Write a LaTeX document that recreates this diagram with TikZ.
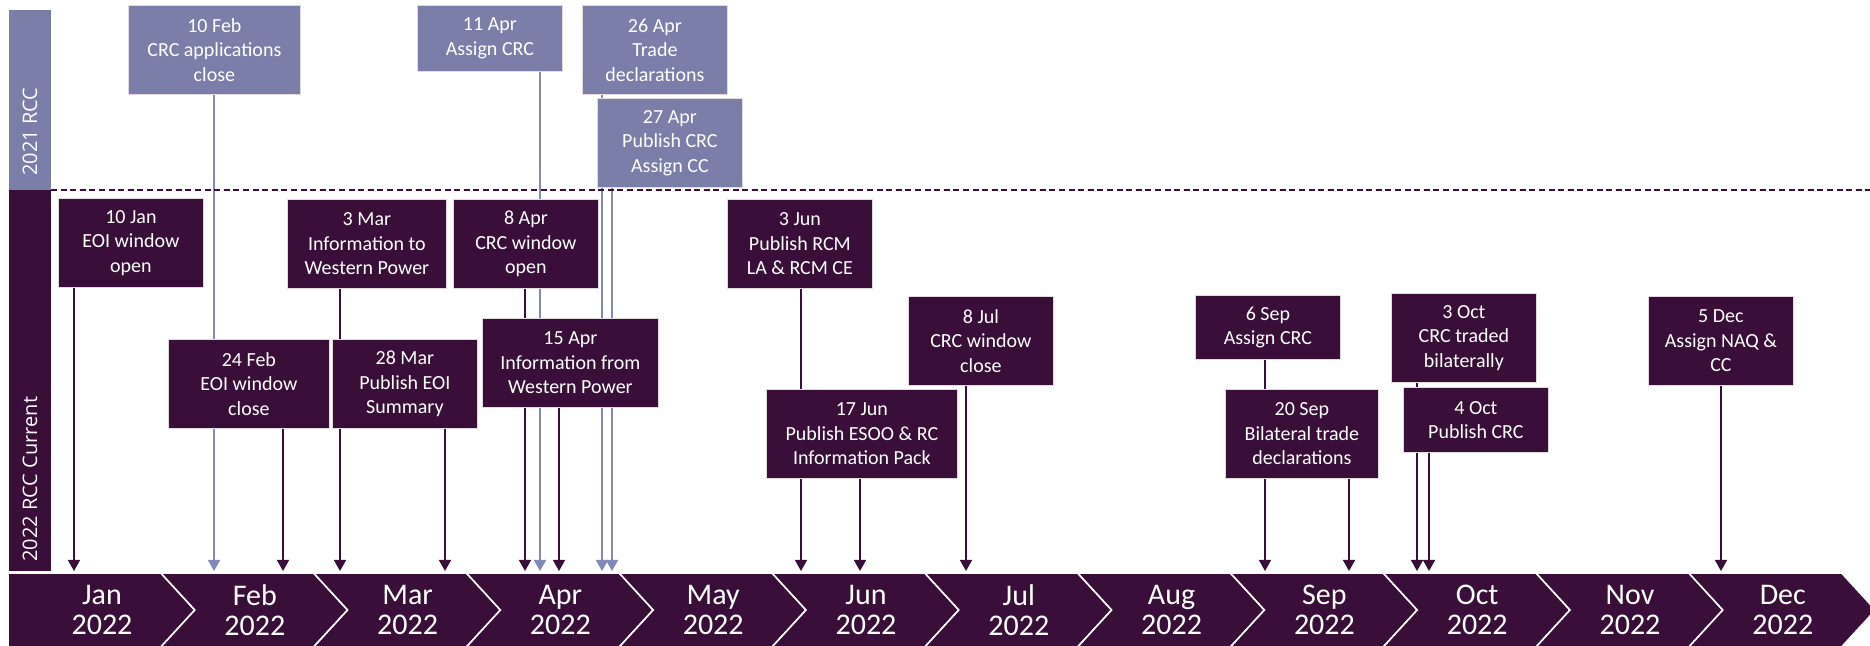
\documentclass[tikz,border=0pt]{standalone}
\usepackage{fontspec}
\setmainfont{Carlito}
\newfontfamily\bandfont{Open Sans}
\usetikzlibrary{arrows.meta,backgrounds}
\definecolor{rccdark}{RGB}{57,15,58}
\definecolor{rcclight}{RGB}{122,126,168}
\definecolor{rccline}{RGB}{130,136,184}

\begin{document}
\begin{tikzpicture}[x=0.5pt,y=-0.5pt,
        newbox/.style={fill=rccdark,draw=white!85!rccdark,line width=0.4pt,text=white,align=center,anchor=north west,
          inner sep=0pt,minimum width=72.5pt,minimum height=44.5pt,font=\fontsize{10}{12.25}\selectfont},
        oldbox/.style={newbox,fill=rcclight},
        newline/.style={draw=rccdark,line width=0.75pt,-{Triangle[width=6pt,length=5.5pt]}},
        oldline/.style={newline,draw=rccline},
        month/.style={text=white,align=center,font=\fontsize{15}{15}\selectfont},
        bandlabel/.style={rotate=90,anchor=west,text=white,inner sep=0pt,font=\bandfont\fontsize{10}{12}\selectfont}]
        \useasboundingbox (0,0) rectangle (1870,646);
        \fill[rcclight] (9,10) rectangle (51,190);
        \fill[rccdark] (9,190) rectangle (51,571);
        \node[bandlabel] (old) at (30,176) {2021 RCC};
        \node[bandlabel] (new) at (30,562) {2022 RCC Current};
        \coordinate (divl) at (51,190);
        \coordinate (divr) at (1870,190);
        \draw[rccdark,line width=0.75pt,dash pattern=on 3pt off 1.8pt] (divl) -- (divr);
        \foreach \m [count=\k from 0] in {Jan,Feb,Mar,Apr,May,Jun,Jul,Aug,Sep,Oct,Nov,Dec} {
          \pgfmathsetmacro\xa{8+152.8*\k}
          \pgfmathsetmacro\xb{\xa+152.8}
          \pgfmathsetmacro\dl{\k==0 ? 0 : 34}
          \filldraw[fill=rccdark,draw=white,line width=0.8pt]
            (\xa,573) -- (\xb,573) -- (\xb+34,610) -- (\xb,647) -- (\xa,647) -- (\xa+\dl,610) -- cycle;
          \node[month] (m\k) at (\xa+94,610) {\m\\2022};
        }
        \foreach \n/\x in {10jan/74,10feb/214,24feb/283,3mar/340,28mar/445,8apr/525,11apr/540,15apr/559,
            26apr/602,27apr/612,3jun/801,17jun/860,8jul/966,6sep/1265,20sep/1349,3oct/1417,4oct/1429,5dec/1721}
          \coordinate (d\n) at (\x,571);
        \node[oldbox,minimum width=86pt] (b10feb) at (128,5) {10 Feb\\CRC applications\\close};
        \node[oldbox,minimum height=33pt] (b11apr) at (417,5) {11 Apr\\Assign CRC};
        \node[oldbox] (b26apr) at (582,5) {26 Apr\\Trade\\declarations};
        \node[oldbox] (b27apr) at (597,98) {27 Apr\\Publish CRC\\Assign CC};
        \node[newbox] (b10jan) at (58,198) {10 Jan\\EOI window\\open};
        \node[newbox,minimum width=79.5pt] (b3mar) at (287,199) {3 Mar\\Information to\\Western Power};
        \node[newbox] (b8apr) at (453,199) {8 Apr\\CRC window\\open};
        \node[newbox] (b3jun) at (727,199) {3 Jun\\Publish RCM\\LA \& RCM CE};
        \node[newbox,minimum width=80.5pt] (b24feb) at (168,339) {24 Feb\\EOI window\\close};
        \node[newbox] (b28mar) at (332,339) {28 Mar\\Publish EOI\\Summary};
        \node[newbox,minimum width=88pt] (b15apr) at (482,318) {15 Apr\\Information from\\Western Power};
        \node[newbox] (b8jul) at (908,296) {8 Jul\\CRC window\\close};
        \node[newbox,minimum width=95.5pt] (b17jun) at (766,389) {17 Jun\\Publish ESOO \& RC\\Information Pack};
        \node[newbox,minimum height=32pt] (b6sep) at (1195,295) {6 Sep\\Assign CRC};
        \node[newbox,minimum width=76.5pt] (b20sep) at (1225,389) {20 Sep\\Bilateral trade\\declarations};
        \node[newbox] (b3oct) at (1391,293) {3 Oct\\CRC traded\\bilaterally};
        \node[newbox,minimum height=32.5pt] (b4oct) at (1403,387) {4 Oct\\Publish CRC};
        \node[newbox] (b5dec) at (1648,296) {5 Dec\\Assign NAQ \&\\CC};
        \begin{pgfonlayer}{background}
          \foreach \b in {10feb,11apr,26apr,27apr}
            \draw[oldline] (b\b.south -| d\b) -- (d\b);
          \foreach \b in {10jan,3mar,8apr,3jun,24feb,28mar,15apr,8jul,17jun,6sep,20sep,3oct,4oct,5dec}
            \draw[newline] (b\b.south -| d\b) -- (d\b);
        \end{pgfonlayer}
\end{tikzpicture}
\end{document}
